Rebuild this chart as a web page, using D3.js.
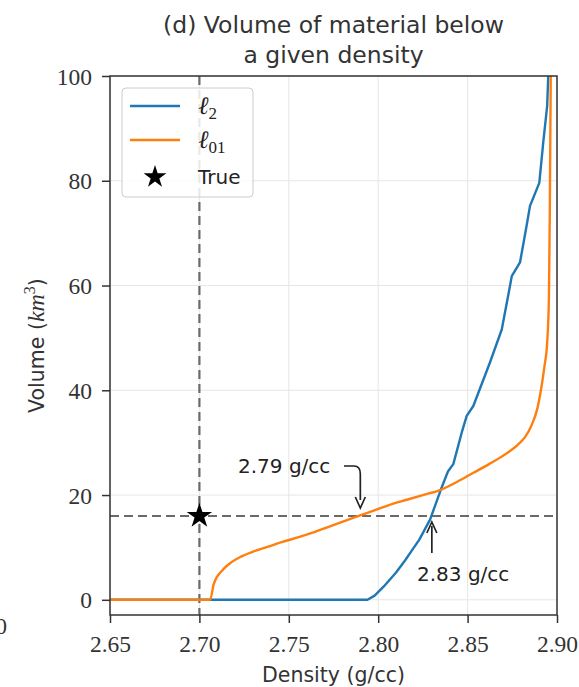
<!DOCTYPE html>
<html><head><meta charset="utf-8">
<script src="https://cdn.jsdelivr.net/npm/d3@7"></script>
<style>
html,body{margin:0;padding:0;background:#fff;}
svg{display:block;}
</style></head>
<body>
<svg id="c" width="579" height="687"></svg>
<script>
// ---- data ----
const xTicks = [2.65, 2.70, 2.75, 2.80, 2.85, 2.90];
const yTicks = [0, 20, 40, 60, 80, 100];
const l2Density = [2.650,2.794,2.798,2.803,2.810,2.815,2.818,2.823,2.829,2.835,2.839,2.842,2.8467,2.8495,2.8532,2.8625,2.8691,2.8737,2.8747,2.8793,2.883,2.8849,2.8901,2.8923,2.8945,2.8951];
const l2Volume  = [0,0,0.8,2.5,5.2,7.5,9,11.5,15.3,21,24.5,25.9,31.9,35.1,37,45.3,51.6,59.9,61.8,64.4,71.4,75.2,79.6,87.3,94.3,100];
const l01Density = [2.650,2.706,2.708,2.713,2.718,2.723,2.730,2.738,2.746,2.756,2.765,2.773,2.781,2.788,2.799,2.808,2.816,2.825,2.835,2.844,2.853,2.862,2.872,2.878,2.882,2.886,2.889,2.891,2.893,2.8945,2.8955,2.896,2.8965];
const l01Volume  = [0,0,3,5.7,7.2,8.2,9.2,10.1,11,12,13,14,15,15.9,17.2,18.3,19.1,20,21,22.5,24.2,25.9,28.0,29.6,31,33.5,36.5,40,44.6,49.1,58,75,100];
const trueDensity = 2.70, trueVolume = 16;
const ann1 = {x: 2.79, label: "2.79 g/cc"};
const ann2 = {x: 2.83, label: "2.83 g/cc"};
const seriesNames = ["2", "01"];
const colors = ["#1f77b4", "#ff7f0e"];

// ---- layout ----
const svg = d3.select("#c");
const L = 110, R = 557, T = 76, B = 615;
const x = d3.scaleLinear().domain([2.65, 2.90]).range([L, R]);
const y = d3.scaleLinear().domain([-2.9, 100]).range([B, T]);
const serif = "'Liberation Serif', 'DejaVu Serif', serif";
const sans = "'DejaVu Sans', sans-serif";

// remnant of neighbouring panel
svg.append("text").attr("x", 7).attr("y", 634).attr("text-anchor", "end")
  .style("font-family", serif).style("font-size", "23px").attr("fill", "#333").text("0");

// grid
const g = svg.append("g");
g.selectAll(".gx").data(xTicks).join("line")
  .attr("x1", d => x(d)).attr("x2", d => x(d)).attr("y1", T).attr("y2", B)
  .attr("stroke", "#e6e6e6").attr("stroke-width", 1);
g.selectAll(".gy").data(yTicks).join("line")
  .attr("y1", d => y(d)).attr("y2", d => y(d)).attr("x1", L).attr("x2", R)
  .attr("stroke", "#e6e6e6").attr("stroke-width", 1);

// clip
svg.append("clipPath").attr("id", "clip").append("rect")
  .attr("x", L).attr("y", T).attr("width", R - L).attr("height", B - T);
const plot = svg.append("g").attr("clip-path", "url(#clip)");

// reference dashed lines
plot.append("line").attr("x1", x(trueDensity)).attr("x2", x(trueDensity)).attr("y1", T).attr("y2", B)
  .attr("stroke", "#6a6a6a").attr("stroke-width", 2.2).attr("stroke-dasharray", "9,5");
plot.append("line").attr("x1", L).attr("x2", R).attr("y1", y(trueVolume)).attr("y2", y(trueVolume))
  .attr("stroke", "#6a6a6a").attr("stroke-width", 2.2).attr("stroke-dasharray", "9,5");

// series
const line = d3.line().x(d => x(d[0])).y(d => y(d[1]));
const smooth = d3.line().curve(d3.curveMonotoneX).x(d => x(d[0])).y(d => y(d[1]));
const s1 = l2Density.map((d, i) => [d, l2Volume[i]]);
const s2 = l01Density.map((d, i) => [d, l01Volume[i]]);
plot.append("path").datum(s1).attr("d", line).attr("fill", "none")
  .attr("stroke", colors[0]).attr("stroke-width", 2.4).attr("stroke-linejoin", "round");
plot.append("path").datum(s2).attr("d", smooth).attr("fill", "none")
  .attr("stroke", colors[1]).attr("stroke-width", 2.4).attr("stroke-linejoin", "round");

// true star
svg.append("path").attr("d", d3.symbol(d3.symbolStar, 200)())
  .attr("transform", `translate(${x(trueDensity)},${y(trueVolume)})`)
  .attr("fill", "#000");

// spines
svg.append("rect").attr("x", L).attr("y", T).attr("width", R - L).attr("height", B - T)
  .attr("fill", "none").attr("stroke", "#333").attr("stroke-width", 1.5);

// axes
const xAxis = svg.append("g").attr("transform", `translate(0,${B})`)
  .call(d3.axisBottom(x).tickValues(xTicks).tickFormat(d3.format(".2f")).tickSize(8).tickSizeOuter(0));
const yAxis = svg.append("g").attr("transform", `translate(${L},0)`)
  .call(d3.axisLeft(y).tickValues(yTicks).tickFormat(d3.format("d")).tickSize(8).tickSizeOuter(0));
[xAxis, yAxis].forEach(a => {
  a.select(".domain").remove();
  a.selectAll(".tick line").attr("stroke", "#333").attr("stroke-width", 1.5);
  a.selectAll(".tick text").style("font-family", serif).style("font-size", "23.5px").attr("fill", "#333");
});
xAxis.selectAll(".tick text").attr("dy", "0.71em").attr("y", 20);
yAxis.selectAll(".tick text").attr("x", -18).attr("dy", "0.34em");

// title
const title = svg.append("text").attr("text-anchor", "middle").style("font-family", sans)
  .style("font-size", "23.5px").attr("fill", "#333");
title.append("tspan").attr("x", (L + R) / 2).attr("y", 33).text("(d) Volume of material below");
title.append("tspan").attr("x", (L + R) / 2).attr("y", 63).text("a given density");

// axis labels
svg.append("text").attr("x", (L + R) / 2).attr("y", 682).attr("text-anchor", "middle")
  .style("font-family", sans).style("font-size", "20.5px").attr("fill", "#333").text("Density (g/cc)");
const yl = svg.append("text").attr("transform", `translate(44,${(T + B) / 2}) rotate(-90)`)
  .attr("text-anchor", "middle").style("font-family", sans).style("font-size", "20.5px").attr("fill", "#333");
yl.append("tspan").text("Volume (");
yl.append("tspan").style("font-family", serif).style("font-style", "italic").style("font-size", "24px").text("km");
yl.append("tspan").style("font-family", serif).style("font-size", "16px").attr("dy", -9).text("3");
yl.append("tspan").attr("dy", 9).text(")");

// annotations
const annFont = "'DejaVu Sans', sans-serif";
svg.append("text").attr("x", 238).attr("y", 473).style("font-family", annFont).style("font-size", "20px")
  .attr("fill", "#222").text(ann1.label);
svg.append("path").attr("d", `M344,466 L354,466 Q${x(ann1.x)},466 ${x(ann1.x)},474 L${x(ann1.x)},500`)
  .attr("fill", "none").attr("stroke", "#222").attr("stroke-width", 1.7);
svg.append("path").attr("d", `M${x(ann1.x) - 5},497 L${x(ann1.x)},508 L${x(ann1.x) + 5},497`)
  .attr("fill", "none").attr("stroke", "#222").attr("stroke-width", 1.7);
svg.append("text").attr("x", 417).attr("y", 581).style("font-family", annFont).style("font-size", "20px")
  .attr("fill", "#222").text(ann2.label);
svg.append("path").attr("d", `M${x(ann2.x)},553 L${x(ann2.x)},526`)
  .attr("fill", "none").attr("stroke", "#222").attr("stroke-width", 1.7);
svg.append("path").attr("d", `M${x(ann2.x) - 5},533 L${x(ann2.x)},522 L${x(ann2.x) + 5},533`)
  .attr("fill", "none").attr("stroke", "#222").attr("stroke-width", 1.7);

// legend
const lg = svg.append("g");
lg.append("rect").attr("x", 122).attr("y", 88).attr("width", 131).attr("height", 109).attr("rx", 4)
  .attr("fill", "#fff").attr("fill-opacity", 0.85).attr("stroke", "#ccc").attr("stroke-width", 1);
const rows = [106, 140];
seriesNames.forEach((n, i) => {
  lg.append("line").attr("x1", 130).attr("x2", 180).attr("y1", rows[i]).attr("y2", rows[i])
    .attr("stroke", colors[i]).attr("stroke-width", 2.4);
  const t = lg.append("text").attr("x", 198).attr("y", rows[i] + 8).style("font-family", serif)
    .style("font-size", "25px").attr("fill", "#222");
  t.append("tspan").style("font-style", "italic").text("ℓ");
  t.append("tspan").style("font-size", "17px").attr("dy", 5).text(n);
});
lg.append("path").attr("d", d3.symbol(d3.symbolStar, 160)()).attr("transform", "translate(155,177)").attr("fill", "#000");
lg.append("text").attr("x", 198).attr("y", 184).style("font-family", sans).style("font-size", "20px")
  .attr("fill", "#222").text("True");
</script>
</body></html>
